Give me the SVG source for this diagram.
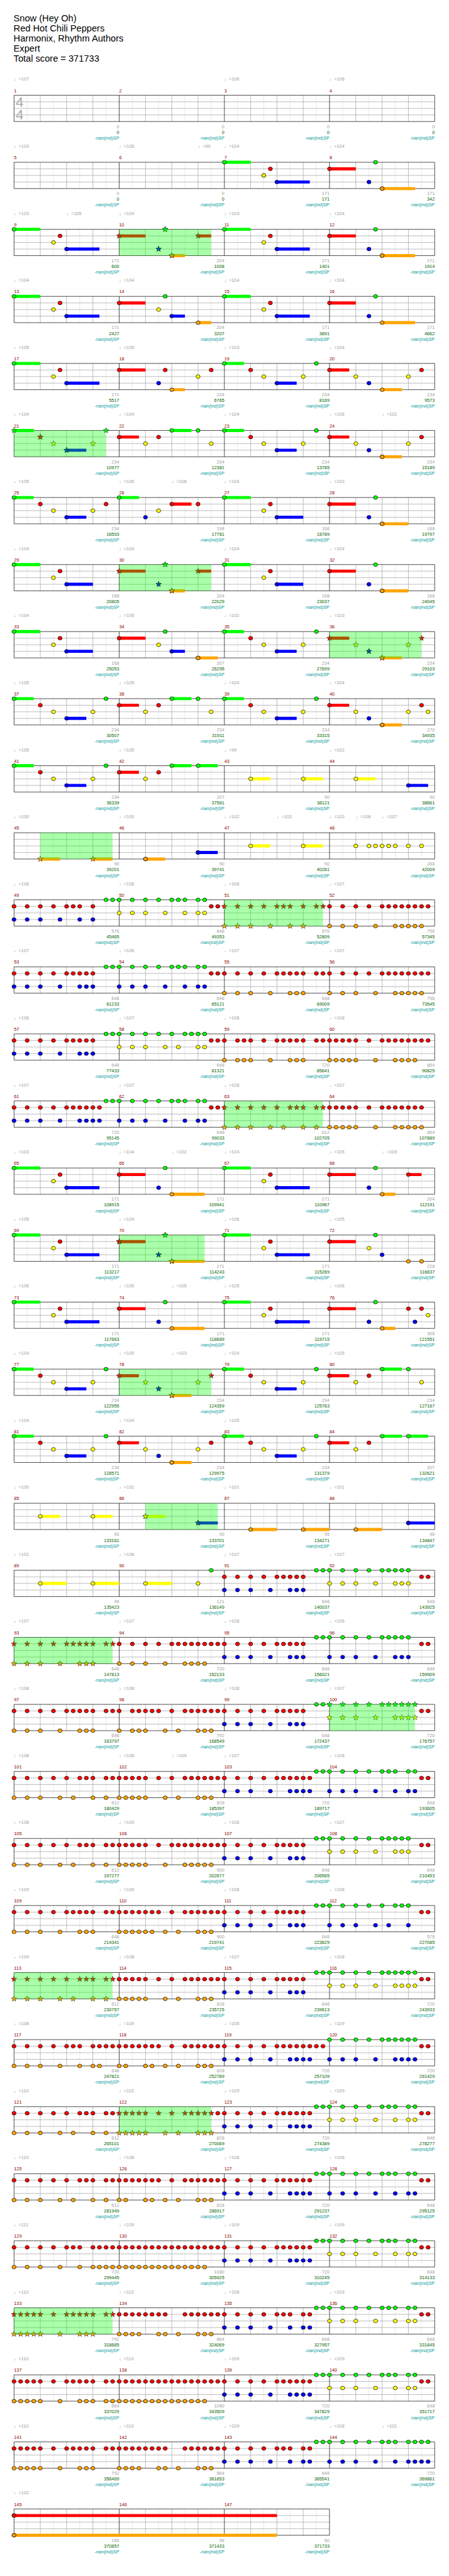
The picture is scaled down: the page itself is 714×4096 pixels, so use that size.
<svg xmlns="http://www.w3.org/2000/svg" xmlns:xlink="http://www.w3.org/1999/xlink" width="714" height="4096" viewBox="0 0 714 4096">
<style>
text{font-family:"Liberation Sans","DejaVu Sans",sans-serif;font-size:10.5px}
.h{font-size:21px;fill:#000}
.tp{fill:#a0a0a0}
.mn{fill:#8b0000}
.s1{fill:#a0a0a0;text-anchor:end}
.s2{fill:#006400;text-anchor:end}
.s3{fill:#009a9a;text-anchor:end}
.ts{font-size:32px;fill:#aaa}
.nG,.nR,.nY,.nB,.nO,.kG,.kR,.kY,.kB,.kO{fill:none;stroke:none}
.nG{marker:url(#mG)}.nR{marker:url(#mR)}.nY{marker:url(#mY)}.nB{marker:url(#mB)}.nO{marker:url(#mO)}
.kG{marker:url(#xG)}.kR{marker:url(#xR)}.kY{marker:url(#xY)}.kB{marker:url(#xB)}.kO{marker:url(#xO)}
.uG,.uR,.uY,.uB,.uO{fill:none;stroke-width:7}
.uG{stroke:#0f0}.uR{stroke:#f00}.uY{stroke:#ff0}.uB{stroke:#00f}.uO{stroke:#ffa500}
.sp{fill:#0f0;fill-opacity:.333}
.gl{stroke:#e2e2e2;fill:none}.gm{stroke:#a0a0a0;fill:none}.gk{stroke:#000;fill:none}
</style>
<defs>
<ellipse id="ov" cx="7" cy="7" rx="4.7" ry="4.2" stroke="#000" stroke-width="1"/>
<path id="st" d="M7 .5L8.59 4.82L13.18 4.99L9.57 7.83L10.82 12.26L7 9.7L3.18 12.26L4.43 7.83L.82 4.99L5.41 4.82Z" stroke="#000" stroke-width=".7"/>
<marker id="mG" markerUnits="userSpaceOnUse" markerWidth="14" markerHeight="14" refX="7" refY="7"><use href="#ov" fill="#0f0"/></marker>
<marker id="mR" markerUnits="userSpaceOnUse" markerWidth="14" markerHeight="14" refX="7" refY="7"><use href="#ov" fill="#f00"/></marker>
<marker id="mY" markerUnits="userSpaceOnUse" markerWidth="14" markerHeight="14" refX="7" refY="7"><use href="#ov" fill="#ff0"/></marker>
<marker id="mB" markerUnits="userSpaceOnUse" markerWidth="14" markerHeight="14" refX="7" refY="7"><use href="#ov" fill="#00f"/></marker>
<marker id="mO" markerUnits="userSpaceOnUse" markerWidth="14" markerHeight="14" refX="7" refY="7"><use href="#ov" fill="#ffa500"/></marker>
<marker id="xG" markerUnits="userSpaceOnUse" markerWidth="14" markerHeight="14" refX="7" refY="7"><use href="#st" fill="#0f0"/></marker>
<marker id="xR" markerUnits="userSpaceOnUse" markerWidth="14" markerHeight="14" refX="7" refY="7"><use href="#st" fill="#f00"/></marker>
<marker id="xY" markerUnits="userSpaceOnUse" markerWidth="14" markerHeight="14" refX="7" refY="7"><use href="#st" fill="#ff0"/></marker>
<marker id="xB" markerUnits="userSpaceOnUse" markerWidth="14" markerHeight="14" refX="7" refY="7"><use href="#st" fill="#00f"/></marker>
<marker id="xO" markerUnits="userSpaceOnUse" markerWidth="14" markerHeight="14" refX="7" refY="7"><use href="#st" fill="#ffa500"/></marker>
<g id="g4">
<path class="gl" d="M30 0v60M90 0v60M150 0v60M210 0v60M270 0v60M330 0v60M390 0v60M450 0v60M510 0v60M570 0v60M630 0v60M690 0v60M750 0v60M810 0v60M870 0v60M930 0v60"/>
<path class="gm" d="M60 0v60M120 0v60M180 0v60M300 0v60M360 0v60M420 0v60M540 0v60M600 0v60M660 0v60M780 0v60M840 0v60M900 0v60M0 15H960M0 30H960M0 45H960"/>
<path class="gk" d="M0 0H960V60H0ZM240 0v60M480 0v60M720 0v60"/>
</g>
<g id="g3">
<path class="gl" d="M30 0v60M90 0v60M150 0v60M210 0v60M270 0v60M330 0v60M390 0v60M450 0v60M510 0v60M570 0v60M630 0v60M690 0v60"/>
<path class="gm" d="M60 0v60M120 0v60M180 0v60M300 0v60M360 0v60M420 0v60M540 0v60M600 0v60M660 0v60M0 15H720M0 30H720M0 45H720"/>
<path class="gk" d="M0 0H720V60H0ZM240 0v60M480 0v60"/>
</g>
<g id="nan"><text class="s3" y="101"><tspan x="240">-nan(ind)SP</tspan><tspan x="480">-nan(ind)SP</tspan><tspan x="720">-nan(ind)SP</tspan><tspan x="960">-nan(ind)SP</tspan></text></g>
</defs>
<rect width="714" height="4096" fill="#fff"/>
<g transform="scale(0.6968)">
<g id="header">
<text class="h" x="31" y="49">Snow (Hey Oh)</text>
<text class="h" x="31" y="72">Red Hot Chili Peppers</text>
<text class="h" x="31" y="95">Harmonix, Rhythm Authors</text>
<text class="h" x="31" y="118">Expert</text>
<text class="h" x="31" y="141">Total score = 371733</text>
</g>

<g id="row1" transform="translate(32 217.3)"><use href="#g4"/>
<text class="ts" x="4" y="27">4</text><text class="ts" x="4" y="55">4</text>
<text class="tp" y="-33"><tspan x="0">♩=107</tspan><tspan x="480">♩=106</tspan><tspan x="720">♩=106</tspan></text>
<text class="mn" y="-7"><tspan x="0">1</tspan><tspan x="240">2</tspan><tspan x="480">3</tspan><tspan x="720">4</tspan></text>
<text class="s1" y="75"><tspan x="240">0</tspan><tspan x="480">0</tspan><tspan x="720">0</tspan><tspan x="960">0</tspan></text>
<text class="s2" y="88"><tspan x="240">0</tspan><tspan x="480">0</tspan><tspan x="720">0</tspan><tspan x="960">0</tspan></text>
<use href="#nan"/></g>

<g id="row2" transform="translate(32 370.3)"><use href="#g4"/>
<text class="tp" y="-33"><tspan x="0">♩=103</tspan><tspan x="240">♩=106</tspan><tspan x="420">♩=99</tspan><tspan x="480">♩=104</tspan><tspan x="720">♩=104</tspan></text>
<text class="mn" y="-7"><tspan x="0">5</tspan><tspan x="240">6</tspan><tspan x="480">7</tspan><tspan x="720">8</tspan></text>
<text class="s1" y="75"><tspan x="240">0</tspan><tspan x="480">0</tspan><tspan x="720">171</tspan><tspan x="960">171</tspan></text>
<text class="s2" y="88"><tspan x="240">0</tspan><tspan x="480">0</tspan><tspan x="720">171</tspan><tspan x="960">342</tspan></text>
<use href="#nan"/>
<path class="uG" d="M480 0H540"/><path class="uR" d="M720 15H780"/><path class="uB" d="M600 45H675"/><path class="uO" d="M840 60H915"/>
<path class="nG" d="M480 0H825"/><path class="nR" d="M585 15H720"/><path class="nY" d="M570 30H570"/><path class="nB" d="M600 45H810"/><path class="nO" d="M840 60H840"/>
</g>

<g id="row3" transform="translate(32 523.3)"><use href="#g4"/>
<text class="tp" y="-33"><tspan x="0">♩=103</tspan><tspan x="120">♩=105</tspan><tspan x="240">♩=104</tspan><tspan x="480">♩=103</tspan><tspan x="720">♩=104</tspan></text>
<text class="mn" y="-7"><tspan x="0">9</tspan><tspan x="240">10</tspan><tspan x="480">11</tspan><tspan x="720">12</tspan></text>
<text class="s1" y="75"><tspan x="240">171</tspan><tspan x="480">204</tspan><tspan x="720">171</tspan><tspan x="960">171</tspan></text>
<text class="s2" y="88"><tspan x="240">600</tspan><tspan x="480">1008</tspan><tspan x="720">1401</tspan><tspan x="960">1914</tspan></text>
<use href="#nan"/>
<path class="uG" d="M0 0H60M480 0H540"/><path class="uR" d="M240 15H300M420 15H450M720 15H780"/><path class="uB" d="M120 45H195M600 45H675"/><path class="uO" d="M360 60H390M840 60H915"/>
<path class="nG" d="M0 0H480H825"/><path class="nR" d="M105 15H585H720"/><path class="nY" d="M90 30H570"/><path class="nB" d="M120 45H600H810"/><path class="nO" d="M840 60H840"/>
<path class="kG" d="M345 0H345"/><path class="kR" d="M240 15H420"/><path class="kB" d="M330 45H330"/><path class="kO" d="M360 60H360"/>
<rect class="sp" x="240" width="210" height="60"/>
</g>

<g id="row4" transform="translate(32 676.3)"><use href="#g4"/>
<text class="tp" y="-33"><tspan x="0">♩=104</tspan><tspan x="240">♩=104</tspan><tspan x="480">♩=104</tspan><tspan x="720">♩=104</tspan></text>
<text class="mn" y="-7"><tspan x="0">13</tspan><tspan x="240">14</tspan><tspan x="480">15</tspan><tspan x="720">16</tspan></text>
<text class="s1" y="75"><tspan x="240">171</tspan><tspan x="480">204</tspan><tspan x="720">171</tspan><tspan x="960">171</tspan></text>
<text class="s2" y="88"><tspan x="240">2427</tspan><tspan x="480">3207</tspan><tspan x="720">3891</tspan><tspan x="960">4662</tspan></text>
<use href="#nan"/>
<path class="uG" d="M0 0H60M480 0H540"/><path class="uR" d="M240 15H300M720 15H780"/><path class="uB" d="M120 45H195M360 45H390M600 45H675"/><path class="uO" d="M420 60H450M840 60H915"/>
<path class="nG" d="M0 0H345H480H825"/><path class="nR" d="M105 15H240H585H720"/><path class="nY" d="M90 30H330H570"/><path class="nB" d="M120 45H360H600H810"/><path class="nO" d="M420 60H840"/>
</g>

<g id="row5" transform="translate(32 829.3)"><use href="#g4"/>
<text class="tp" y="-33"><tspan x="0">♩=105</tspan><tspan x="240">♩=105</tspan><tspan x="480">♩=103</tspan><tspan x="720">♩=104</tspan></text>
<text class="mn" y="-7"><tspan x="0">17</tspan><tspan x="240">18</tspan><tspan x="480">19</tspan><tspan x="720">20</tspan></text>
<text class="s1" y="75"><tspan x="240">171</tspan><tspan x="480">234</tspan><tspan x="720">234</tspan><tspan x="960">234</tspan></text>
<text class="s2" y="88"><tspan x="240">5517</tspan><tspan x="480">6765</tspan><tspan x="720">8169</tspan><tspan x="960">9573</tspan></text>
<use href="#nan"/>
<path class="uG" d="M0 0H60M480 0H525"/><path class="uR" d="M240 15H300M720 15H765"/><path class="uB" d="M120 45H195M600 45H645"/><path class="uO" d="M360 60H390M840 60H885"/>
<path class="nG" d="M0 0H480H690"/><path class="nR" d="M105 15H240H345H450H540H720H930"/><path class="nY" d="M90 30H420H570H660H780H900"/><path class="nB" d="M120 45H330H600H810"/><path class="nO" d="M360 60H840"/>
</g>

<g id="row6" transform="translate(32 982.3)"><use href="#g4"/>
<text class="tp" y="-33"><tspan x="0">♩=104</tspan><tspan x="240">♩=104</tspan><tspan x="480">♩=104</tspan><tspan x="720">♩=106</tspan><tspan x="840">♩=101</tspan></text>
<text class="mn" y="-7"><tspan x="0">21</tspan><tspan x="240">22</tspan><tspan x="480">23</tspan><tspan x="720">24</tspan></text>
<text class="s1" y="75"><tspan x="240">234</tspan><tspan x="480">234</tspan><tspan x="720">234</tspan><tspan x="960">234</tspan></text>
<text class="s2" y="88"><tspan x="240">10977</tspan><tspan x="480">12381</tspan><tspan x="720">13785</tspan><tspan x="960">15189</tspan></text>
<use href="#nan"/>
<path class="uG" d="M0 0H45M360 0H405M480 0H525"/><path class="uR" d="M240 15H285M720 15H765"/><path class="uB" d="M120 45H165M600 45H645"/><path class="uO" d="M840 60H885"/>
<path class="kG" d="M0 0H210"/><path class="kR" d="M60 15H60"/><path class="kY" d="M90 30H180"/><path class="kB" d="M120 45H120"/>
<path class="nG" d="M360 0H420H480H690"/><path class="nR" d="M240 15H330H540H720H930"/><path class="nY" d="M300 30H450H570H660H780H900"/><path class="nB" d="M600 45H810"/><path class="nO" d="M840 60H840"/>
<rect class="sp" x="0" width="210" height="60"/>
</g>

<g id="row7" transform="translate(32 1135.3)"><use href="#g4"/>
<text class="tp" y="-33"><tspan x="0">♩=105</tspan><tspan x="240">♩=106</tspan><tspan x="360">♩=106</tspan><tspan x="480">♩=104</tspan><tspan x="720">♩=103</tspan></text>
<text class="mn" y="-7"><tspan x="0">25</tspan><tspan x="240">26</tspan><tspan x="480">27</tspan><tspan x="720">28</tspan></text>
<text class="s1" y="75"><tspan x="240">234</tspan><tspan x="480">198</tspan><tspan x="720">168</tspan><tspan x="960">168</tspan></text>
<text class="s2" y="88"><tspan x="240">16593</tspan><tspan x="480">17781</tspan><tspan x="720">18789</tspan><tspan x="960">19797</tspan></text>
<use href="#nan"/>
<path class="uG" d="M0 0H45M240 0H285M480 0H540"/><path class="uR" d="M360 15H405M720 15H780"/><path class="uB" d="M120 45H165M600 45H660"/><path class="uO" d="M840 60H900"/>
<path class="nG" d="M0 0H240H480H825"/><path class="nR" d="M60 15H210H360H420H585H720"/><path class="nY" d="M90 30H180H330H570"/><path class="nB" d="M120 45H300H600H810"/><path class="nO" d="M840 60H840"/>
</g>

<g id="row8" transform="translate(32 1288.3)"><use href="#g4"/>
<text class="tp" y="-33"><tspan x="0">♩=104</tspan><tspan x="240">♩=104</tspan><tspan x="480">♩=104</tspan><tspan x="720">♩=104</tspan></text>
<text class="mn" y="-7"><tspan x="0">29</tspan><tspan x="240">30</tspan><tspan x="480">31</tspan><tspan x="720">32</tspan></text>
<text class="s1" y="75"><tspan x="240">168</tspan><tspan x="480">204</tspan><tspan x="720">168</tspan><tspan x="960">168</tspan></text>
<text class="s2" y="88"><tspan x="240">20805</tspan><tspan x="480">22029</tspan><tspan x="720">23037</tspan><tspan x="960">24045</tspan></text>
<use href="#nan"/>
<path class="uG" d="M0 0H60M480 0H540"/><path class="uR" d="M240 15H300M420 15H450M720 15H780"/><path class="uB" d="M120 45H180M600 45H660"/><path class="uO" d="M360 60H390M840 60H900"/>
<path class="kG" d="M345 0H345"/><path class="kR" d="M240 15H420"/><path class="kB" d="M330 45H330"/><path class="kO" d="M360 60H360"/>
<path class="nG" d="M0 0H480H825"/><path class="nR" d="M105 15H585H720"/><path class="nY" d="M90 30H570"/><path class="nB" d="M120 45H600H810"/><path class="nO" d="M840 60H840"/>
<rect class="sp" x="240" width="210" height="60"/>
</g>

<g id="row9" transform="translate(32 1441.3)"><use href="#g4"/>
<text class="tp" y="-33"><tspan x="0">♩=104</tspan><tspan x="240">♩=106</tspan><tspan x="480">♩=102</tspan><tspan x="720">♩=103</tspan></text>
<text class="mn" y="-7"><tspan x="0">33</tspan><tspan x="240">34</tspan><tspan x="480">35</tspan><tspan x="720">36</tspan></text>
<text class="s1" y="75"><tspan x="240">168</tspan><tspan x="480">207</tspan><tspan x="720">234</tspan><tspan x="960">234</tspan></text>
<text class="s2" y="88"><tspan x="240">25053</tspan><tspan x="480">26295</tspan><tspan x="720">27699</tspan><tspan x="960">29103</tspan></text>
<use href="#nan"/>
<path class="uG" d="M0 0H60M480 0H525"/><path class="uR" d="M240 15H300M720 15H765"/><path class="uB" d="M120 45H180M360 45H390M600 45H645"/><path class="uO" d="M420 60H465M840 60H885"/>
<path class="kR" d="M720 15H930"/><path class="kY" d="M780 30H900"/><path class="kB" d="M810 45H810"/><path class="kO" d="M840 60H840"/>
<path class="nG" d="M0 0H345H480H690"/><path class="nR" d="M105 15H240H540"/><path class="nY" d="M90 30H330H570H660"/><path class="nB" d="M120 45H360H600"/><path class="nO" d="M420 60H420"/>
<rect class="sp" x="720" width="210" height="60"/>
</g>

<g id="row10" transform="translate(32 1594.3)"><use href="#g4"/>
<text class="tp" y="-33"><tspan x="0">♩=105</tspan><tspan x="240">♩=105</tspan><tspan x="480">♩=104</tspan><tspan x="720">♩=104</tspan></text>
<text class="mn" y="-7"><tspan x="0">37</tspan><tspan x="240">38</tspan><tspan x="480">39</tspan><tspan x="720">40</tspan></text>
<text class="s1" y="75"><tspan x="240">234</tspan><tspan x="480">234</tspan><tspan x="720">234</tspan><tspan x="960">270</tspan></text>
<text class="s2" y="88"><tspan x="240">30507</tspan><tspan x="480">31911</tspan><tspan x="720">33315</tspan><tspan x="960">34935</tspan></text>
<use href="#nan"/>
<path class="uG" d="M0 0H45M360 0H405M480 0H525"/><path class="uR" d="M240 15H285M720 15H765"/><path class="uB" d="M120 45H165M600 45H645"/><path class="uO" d="M840 60H885"/>
<path class="nG" d="M0 0H210H360H420H480H690"/><path class="nR" d="M60 15H240H330H540H720H930"/><path class="nY" d="M90 30H180H300H450H570H660H780H900H945"/><path class="nB" d="M120 45H600H810"/><path class="nO" d="M840 60H840"/>
</g>

<g id="row11" transform="translate(32 1747.3)"><use href="#g4"/>
<text class="tp" y="-33"><tspan x="0">♩=105</tspan><tspan x="240">♩=105</tspan><tspan x="480">♩=99</tspan><tspan x="720">♩=102</tspan></text>
<text class="mn" y="-7"><tspan x="0">41</tspan><tspan x="240">42</tspan><tspan x="480">43</tspan><tspan x="720">44</tspan></text>
<text class="s1" y="75"><tspan x="240">234</tspan><tspan x="480">207</tspan><tspan x="720">90</tspan><tspan x="960">90</tspan></text>
<text class="s2" y="88"><tspan x="240">36339</tspan><tspan x="480">37581</tspan><tspan x="720">38121</tspan><tspan x="960">38661</tspan></text>
<use href="#nan"/>
<path class="uG" d="M0 0H45M360 0H405M420 0H465"/><path class="uR" d="M240 15H285"/><path class="uY" d="M540 30H585M660 30H705M780 30H825"/><path class="uB" d="M120 45H165M900 45H945"/>
<path class="nG" d="M0 0H210H360H420"/><path class="nR" d="M60 15H240H330"/><path class="nY" d="M90 30H180H300H540H660H780"/><path class="nB" d="M120 45H900"/>
</g>

<g id="row12" transform="translate(32 1900.3)"><use href="#g4"/>
<text class="tp" y="-33"><tspan x="0">♩=100</tspan><tspan x="240">♩=100</tspan><tspan x="480">♩=102</tspan><tspan x="600">♩=103</tspan><tspan x="720">♩=103</tspan><tspan x="780">♩=108</tspan><tspan x="840">♩=107</tspan></text>
<text class="mn" y="-7"><tspan x="0">45</tspan><tspan x="240">46</tspan><tspan x="480">47</tspan><tspan x="720">48</tspan></text>
<text class="s1" y="75"><tspan x="240">90</tspan><tspan x="480">90</tspan><tspan x="720">90</tspan><tspan x="960">288</tspan></text>
<text class="s2" y="88"><tspan x="240">39201</tspan><tspan x="480">39741</tspan><tspan x="720">40281</tspan><tspan x="960">42009</tspan></text>
<use href="#nan"/>
<path class="uO" d="M60 60H105M180 60H225M300 60H345"/><path class="uB" d="M420 45H465"/><path class="uY" d="M540 30H585M660 30H705"/>
<path class="kO" d="M60 60H180"/><path class="nO" d="M300 60H300"/><path class="nB" d="M420 45H420"/><path class="nY" d="M540 30H660H780H810H825H840H855H870H900H930"/>
<rect class="sp" x="60" width="165" height="60"/>
</g>

<g id="row13" transform="translate(32 2053.3)"><use href="#g4"/>
<text class="tp" y="-33"><tspan x="0">♩=106</tspan><tspan x="240">♩=106</tspan><tspan x="480">♩=106</tspan><tspan x="720">♩=107</tspan></text>
<text class="mn" y="-7"><tspan x="0">49</tspan><tspan x="240">50</tspan><tspan x="480">51</tspan><tspan x="720">52</tspan></text>
<text class="s1" y="75"><tspan x="240">576</tspan><tspan x="480">648</tspan><tspan x="720">576</tspan><tspan x="960">756</tspan></text>
<text class="s2" y="88"><tspan x="240">45465</tspan><tspan x="480">49353</tspan><tspan x="720">52809</tspan><tspan x="960">57345</tspan></text>
<use href="#nan"/>
<path class="nG" d="M210 0H225H240H270H300H330H360H375H390H420H435"/>
<path class="nR" d="M0 15H30H60H90H120H135H150H180H450H465H720H750H780H810H840H855H870H885H900H915H930H945"/>
<path class="kR" d="M480 15H510H540H570H600H615H630H660H690H705"/>
<path class="nY" d="M240 30H270H300H345H390H420H435"/>
<path class="nB" d="M0 45H30H60H105H150H180"/>
<path class="kO" d="M480 60H510H540H585H630H660"/>
<path class="nO" d="M720 60H750H780H825H870H885H900H915H930"/>
<rect class="sp" x="480" width="225" height="60"/>
</g>

<g id="row14" transform="translate(32 2206.3)"><use href="#g4"/>
<text class="tp" y="-33"><tspan x="0">♩=107</tspan><tspan x="240">♩=106</tspan><tspan x="480">♩=107</tspan><tspan x="720">♩=107</tspan></text>
<text class="mn" y="-7"><tspan x="0">53</tspan><tspan x="240">54</tspan><tspan x="480">55</tspan><tspan x="720">56</tspan></text>
<text class="s1" y="75"><tspan x="240">648</tspan><tspan x="480">648</tspan><tspan x="720">648</tspan><tspan x="960">756</tspan></text>
<text class="s2" y="88"><tspan x="240">61233</tspan><tspan x="480">65121</tspan><tspan x="720">69009</tspan><tspan x="960">73545</tspan></text>
<use href="#nan"/>
<path class="nG" d="M210 0H225H240H270H300H330H360H375H390H420H435"/>
<path class="nR" d="M0 15H30H60H90H120H135H150H165H180H450H465H480H510H540H570H600H615H630H645H660H690H705H720H750H780H810H840H855H870H885H900H915H930H945"/>
<path class="nB" d="M0 45H30H60H105H150H165H180H240H270H300H345H390H420H435"/>
<path class="nO" d="M480 60H510H540H585H630H645H660H720H750H780H825H870H885H900H915H930"/>
</g>

<g id="row15" transform="translate(32 2359.3)"><use href="#g4"/>
<text class="tp" y="-33"><tspan x="0">♩=106</tspan><tspan x="240">♩=107</tspan><tspan x="480">♩=108</tspan><tspan x="720">♩=108</tspan></text>
<text class="mn" y="-7"><tspan x="0">57</tspan><tspan x="240">58</tspan><tspan x="480">59</tspan><tspan x="720">60</tspan></text>
<text class="s1" y="75"><tspan x="240">648</tspan><tspan x="480">648</tspan><tspan x="720">720</tspan><tspan x="960">864</tspan></text>
<text class="s2" y="88"><tspan x="240">77433</tspan><tspan x="480">81321</tspan><tspan x="720">85641</tspan><tspan x="960">90825</tspan></text>
<use href="#nan"/>
<path class="nG" d="M210 0H225H240H270H300H330H360H390H405H420H435"/>
<path class="nR" d="M0 15H30H60H90H120H135H150H165H180H450H465H480H510H525H540H570H600H615H630H645H660H690H705H720H735H750H765H780H810H840H855H870H885H900H915H930H945"/>
<path class="nY" d="M240 30H270H300H345H375H420H435"/>
<path class="nB" d="M0 45H30H60H105H150H165H180"/>
<path class="nO" d="M480 60H510H525H540H585H630H645H660H720H735H750H765H780H825H870H885H900H915"/>
</g>

<g id="row16" transform="translate(32 2512.3)"><use href="#g4"/>
<text class="tp" y="-33"><tspan x="0">♩=107</tspan><tspan x="240">♩=107</tspan><tspan x="480">♩=108</tspan><tspan x="720">♩=107</tspan></text>
<text class="mn" y="-7"><tspan x="0">61</tspan><tspan x="240">62</tspan><tspan x="480">63</tspan><tspan x="720">64</tspan></text>
<text class="s1" y="75"><tspan x="240">720</tspan><tspan x="480">648</tspan><tspan x="720">612</tspan><tspan x="960">864</tspan></text>
<text class="s2" y="88"><tspan x="240">95145</tspan><tspan x="480">99033</tspan><tspan x="720">102705</tspan><tspan x="960">107889</tspan></text>
<use href="#nan"/>
<path class="nG" d="M210 0H225H240H270H300H330H360H375H390H420H435"/>
<path class="nR" d="M0 15H30H60H90H120H135H150H165H180H195H450H465H720H735H750H765H780H810H840H855H870H885H900H915H930"/>
<path class="kR" d="M480 15H510H540H570H600H630H645H660H690H705"/>
<path class="nB" d="M0 45H30H60H105H150H165H180H195H240H270H300H345H390H420H435"/>
<path class="kO" d="M480 60H510H540H585H615H660H690"/>
<path class="nO" d="M720 60H735H750H765H780H825H870H885H900H915H930"/>
<rect class="sp" x="480" width="225" height="60"/>
</g>

<g id="row17" transform="translate(32 2665.3)"><use href="#g4"/>
<text class="tp" y="-33"><tspan x="0">♩=103</tspan><tspan x="240">♩=104</tspan><tspan x="360">♩=102</tspan><tspan x="480">♩=104</tspan><tspan x="720">♩=106</tspan><tspan x="840">♩=109</tspan></text>
<text class="mn" y="-7"><tspan x="0">65</tspan><tspan x="240">66</tspan><tspan x="480">67</tspan><tspan x="720">68</tspan></text>
<text class="s1" y="75"><tspan x="240">171</tspan><tspan x="480">171</tspan><tspan x="720">171</tspan><tspan x="960">204</tspan></text>
<text class="s2" y="88"><tspan x="240">108915</tspan><tspan x="480">109941</tspan><tspan x="720">110967</tspan><tspan x="960">112191</tspan></text>
<use href="#nan"/>
<path class="uG" d="M0 0H60M480 0H540"/><path class="uR" d="M240 15H300M720 15H780M900 15H930"/><path class="uB" d="M120 45H195M600 45H675"/><path class="uO" d="M360 60H435M840 60H870"/>
<path class="nG" d="M0 0H345H480H825"/><path class="nR" d="M105 15H240H585H720H900"/><path class="nY" d="M90 30H570"/><path class="nB" d="M120 45H330H600H810"/><path class="nO" d="M360 60H840"/>
</g>

<g id="row18" transform="translate(32 2818.3)"><use href="#g4"/>
<text class="tp" y="-33"><tspan x="0">♩=105</tspan><tspan x="240">♩=104</tspan><tspan x="480">♩=106</tspan><tspan x="720">♩=105</tspan></text>
<text class="mn" y="-7"><tspan x="0">69</tspan><tspan x="240">70</tspan><tspan x="480">71</tspan><tspan x="720">72</tspan></text>
<text class="s1" y="75"><tspan x="240">171</tspan><tspan x="480">171</tspan><tspan x="720">171</tspan><tspan x="960">228</tspan></text>
<text class="s2" y="88"><tspan x="240">113217</tspan><tspan x="480">114243</tspan><tspan x="720">115269</tspan><tspan x="960">116637</tspan></text>
<use href="#nan"/>
<path class="uG" d="M0 0H60M480 0H540"/><path class="uR" d="M240 15H300M720 15H780"/><path class="uB" d="M120 45H195M600 45H675"/><path class="uO" d="M360 60H435"/>
<path class="kG" d="M345 0H345"/><path class="kR" d="M240 15H240"/><path class="kB" d="M330 45H330"/><path class="kO" d="M360 60H360"/>
<path class="nG" d="M0 0H480H825"/><path class="nR" d="M105 15H585H720"/><path class="nY" d="M90 30H570H810"/><path class="nB" d="M120 45H600H840"/><path class="nO" d="M900 60H930"/>
<rect class="sp" x="240" width="195" height="60"/>
</g>

<g id="row19" transform="translate(32 2971.3)"><use href="#g4"/>
<text class="tp" y="-33"><tspan x="0">♩=106</tspan><tspan x="240">♩=105</tspan><tspan x="360">♩=105</tspan><tspan x="480">♩=105</tspan><tspan x="720">♩=106</tspan></text>
<text class="mn" y="-7"><tspan x="0">73</tspan><tspan x="240">74</tspan><tspan x="480">75</tspan><tspan x="720">76</tspan></text>
<text class="s1" y="75"><tspan x="240">171</tspan><tspan x="480">171</tspan><tspan x="720">171</tspan><tspan x="960">306</tspan></text>
<text class="s2" y="88"><tspan x="240">117663</tspan><tspan x="480">118689</tspan><tspan x="720">119715</tspan><tspan x="960">121551</tspan></text>
<use href="#nan"/>
<path class="uG" d="M0 0H60M480 0H540"/><path class="uR" d="M240 15H300M720 15H780"/><path class="uB" d="M120 45H195M600 45H675"/><path class="uO" d="M360 60H435M840 60H870"/>
<path class="nG" d="M0 0H345H480H825"/><path class="nR" d="M105 15H240H585H720H900H930"/><path class="nY" d="M90 30H570H945"/><path class="nB" d="M120 45H330H600H810H915"/><path class="nO" d="M360 60H840"/>
</g>

<g id="row20" transform="translate(32 3124.3)"><use href="#g4"/>
<text class="tp" y="-33"><tspan x="0">♩=104</tspan><tspan x="240">♩=105</tspan><tspan x="360">♩=103</tspan><tspan x="480">♩=104</tspan><tspan x="720">♩=105</tspan></text>
<text class="mn" y="-7"><tspan x="0">77</tspan><tspan x="240">78</tspan><tspan x="480">79</tspan><tspan x="720">80</tspan></text>
<text class="s1" y="75"><tspan x="240">234</tspan><tspan x="480">234</tspan><tspan x="720">234</tspan><tspan x="960">234</tspan></text>
<text class="s2" y="88"><tspan x="240">122955</tspan><tspan x="480">124359</tspan><tspan x="720">125763</tspan><tspan x="960">127167</tspan></text>
<use href="#nan"/>
<path class="uG" d="M0 0H45M480 0H525M840 0H885"/><path class="uR" d="M240 15H285M720 15H765"/><path class="uB" d="M120 45H165M600 45H645"/><path class="uO" d="M360 60H405"/>
<path class="kR" d="M240 15H450"/><path class="kY" d="M300 30H420"/><path class="kB" d="M330 45H330"/><path class="kO" d="M360 60H360"/>
<path class="nG" d="M0 0H210H480H690H840H900"/><path class="nR" d="M60 15H540H720H810"/><path class="nY" d="M90 30H180H570H660H780H930"/><path class="nB" d="M120 45H600"/>
<rect class="sp" x="240" width="210" height="60"/>
</g>

<g id="row21" transform="translate(32 3277.3)"><use href="#g4"/>
<text class="tp" y="-33"><tspan x="0">♩=104</tspan><tspan x="240">♩=104</tspan><tspan x="480">♩=105</tspan></text>
<text class="mn" y="-7"><tspan x="0">81</tspan><tspan x="240">82</tspan><tspan x="480">83</tspan><tspan x="720">84</tspan></text>
<text class="s1" y="75"><tspan x="240">234</tspan><tspan x="480">234</tspan><tspan x="720">234</tspan><tspan x="960">207</tspan></text>
<text class="s2" y="88"><tspan x="240">128571</tspan><tspan x="480">129975</tspan><tspan x="720">131379</tspan><tspan x="960">132621</tspan></text>
<use href="#nan"/>
<path class="uG" d="M0 0H45M480 0H525M840 0H885M900 0H945"/><path class="uR" d="M240 15H285M720 15H765"/><path class="uB" d="M120 45H165M600 45H645"/><path class="uO" d="M360 60H405"/>
<path class="nG" d="M0 0H210H480H690H840H900"/><path class="nR" d="M60 15H240H450H540H720H810"/><path class="nY" d="M90 30H180H300H420H570H660H780"/><path class="nB" d="M120 45H330H600"/><path class="nO" d="M360 60H360"/>
</g>

<g id="row22" transform="translate(32 3430.3)"><use href="#g4"/>
<text class="tp" y="-33"><tspan x="0">♩=100</tspan><tspan x="240">♩=101</tspan><tspan x="480">♩=101</tspan><tspan x="720">♩=101</tspan></text>
<text class="mn" y="-7"><tspan x="0">85</tspan><tspan x="240">86</tspan><tspan x="480">87</tspan><tspan x="720">88</tspan></text>
<text class="s1" y="75"><tspan x="240">90</tspan><tspan x="480">90</tspan><tspan x="720">95</tspan><tspan x="960">96</tspan></text>
<text class="s2" y="88"><tspan x="240">133161</tspan><tspan x="480">133701</tspan><tspan x="720">134271</tspan><tspan x="960">134847</tspan></text>
<use href="#nan"/>
<path class="uY" d="M60 30H105M180 30H225M300 30H345"/><path class="uB" d="M420 45H465M900 45H960"/><path class="uO" d="M540 60H600M660 60H720M780 60H840"/>
<path class="kY" d="M300 30H300"/><path class="kB" d="M420 45H420"/>
<path class="nY" d="M60 30H180"/><path class="nB" d="M900 45H900"/><path class="nO" d="M540 60H660H780"/>
<rect class="sp" x="300" width="165" height="60"/>
</g>

<g id="row23" transform="translate(32 3583.3)"><use href="#g4"/>
<text class="tp" y="-33"><tspan x="0">♩=101</tspan><tspan x="240">♩=106</tspan><tspan x="480">♩=107</tspan><tspan x="720">♩=107</tspan></text>
<text class="mn" y="-7"><tspan x="0">89</tspan><tspan x="240">90</tspan><tspan x="480">91</tspan><tspan x="720">92</tspan></text>
<text class="s1" y="75"><tspan x="240">96</tspan><tspan x="480">121</tspan><tspan x="720">648</tspan><tspan x="960">648</tspan></text>
<text class="s2" y="88"><tspan x="240">135423</tspan><tspan x="480">136149</tspan><tspan x="720">140037</tspan><tspan x="960">143925</tspan></text>
<use href="#nan"/>
<path class="uY" d="M60 30H120M180 30H240M300 30H360"/>
<path class="nG" d="M450 0H690H705H720H750H780H810H840H855H870H885H900"/>
<path class="nY" d="M60 30H180H300H420H720H750H780H825H870H885H900"/>
<path class="nR" d="M480 15H510H540H570H600H615H630H645H660H930H945"/>
<path class="nB" d="M480 45H510H540H585H630H645H660"/>
</g>

<g id="row24" transform="translate(32 3736.3)"><use href="#g4"/>
<text class="tp" y="-33"><tspan x="0">♩=107</tspan><tspan x="240">♩=107</tspan><tspan x="480">♩=108</tspan><tspan x="720">♩=106</tspan></text>
<text class="mn" y="-7"><tspan x="0">93</tspan><tspan x="240">94</tspan><tspan x="480">95</tspan><tspan x="720">96</tspan></text>
<text class="s1" y="75"><tspan x="240">648</tspan><tspan x="480">720</tspan><tspan x="720">648</tspan><tspan x="960">648</tspan></text>
<text class="s2" y="88"><tspan x="240">147813</tspan><tspan x="480">152133</tspan><tspan x="720">156021</tspan><tspan x="960">159909</tspan></text>
<use href="#nan"/>
<path class="kR" d="M0 15H30H60H90H120H135H150H165H180H210H225"/>
<path class="nR" d="M240 15H270H300H330H360H375H390H405H420H435H450H465H480H510H540H570H600H615H630H645H660H930H945"/>
<path class="kO" d="M0 60H30H60H105H150H165H180"/>
<path class="nO" d="M240 60H270H300H345H390H405H420H435"/>
<path class="nG" d="M690 0H705H720H750H780H810H840H855H870H885H900"/>
<path class="nB" d="M480 45H510H540H585H630H645H660H720H750H780H825H870H885H900"/>
<rect class="sp" x="0" width="225" height="60"/>
</g>

<g id="row25" transform="translate(32 3889.3)"><use href="#g4"/>
<text class="tp" y="-33"><tspan x="0">♩=108</tspan><tspan x="240">♩=108</tspan><tspan x="480">♩=108</tspan><tspan x="720">♩=107</tspan></text>
<text class="mn" y="-7"><tspan x="0">97</tspan><tspan x="240">98</tspan><tspan x="480">99</tspan><tspan x="720">100</tspan></text>
<text class="s1" y="75"><tspan x="240">648</tspan><tspan x="480">792</tspan><tspan x="720">648</tspan><tspan x="960">720</tspan></text>
<text class="s2" y="88"><tspan x="240">163797</tspan><tspan x="480">168549</tspan><tspan x="720">172437</tspan><tspan x="960">176757</tspan></text>
<use href="#nan"/>
<path class="nR" d="M0 15H30H60H90H120H135H150H165H180H210H225H240H270H285H300H315H330H360H390H405H420H435H450H465H480H510H540H570H600H615H630H645H660H930H945"/>
<path class="nO" d="M0 60H30H60H105H150H165H180H240H270H285H300H345H375H420H435H450"/>
<path class="nB" d="M480 45H510H540H585H630H645H660"/>
<path class="nG" d="M690 0H705"/>
<path class="kG" d="M720 0H750H780H810H840H855H870H885H900H915"/>
<path class="kY" d="M720 30H750H780H825H870H885H900H915"/>
<rect class="sp" x="720" width="195" height="60"/>
</g>

<g id="row26" transform="translate(32 4042.3)"><use href="#g4"/>
<text class="tp" y="-33"><tspan x="0">♩=108</tspan><tspan x="240">♩=108</tspan><tspan x="360">♩=109</tspan><tspan x="480">♩=107</tspan><tspan x="720">♩=108</tspan></text>
<text class="mn" y="-7"><tspan x="0">101</tspan><tspan x="240">102</tspan><tspan x="480">103</tspan><tspan x="720">104</tspan></text>
<text class="s1" y="75"><tspan x="240">612</tspan><tspan x="480">828</tspan><tspan x="720">720</tspan><tspan x="960">648</tspan></text>
<text class="s2" y="88"><tspan x="240">180429</tspan><tspan x="480">185397</tspan><tspan x="720">189717</tspan><tspan x="960">193605</tspan></text>
<use href="#nan"/>
<path class="nR" d="M0 15H30H60H90H120H150H165H180H210H225H240H255H270H285H300H330H360H390H405H420H435H450H465H480H510H540H570H600H615H630H645H660H675H930H945"/>
<path class="nO" d="M0 60H30H60H105H135H180H210H240H255H270H285H300H345H375H420H435H450"/>
<path class="nB" d="M480 45H510H540H585H630H645H660H675H720H750H780H825H870H900H915"/>
<path class="nG" d="M690 0H705H720H750H780H810H840H855H870H900H915"/>
</g>

<g id="row27" transform="translate(32 4195.3)"><use href="#g4"/>
<text class="tp" y="-33"><tspan x="0">♩=108</tspan><tspan x="240">♩=109</tspan><tspan x="480">♩=108</tspan><tspan x="720">♩=107</tspan></text>
<text class="mn" y="-7"><tspan x="0">105</tspan><tspan x="240">106</tspan><tspan x="480">107</tspan><tspan x="720">108</tspan></text>
<text class="s1" y="75"><tspan x="240">612</tspan><tspan x="480">900</tspan><tspan x="720">648</tspan><tspan x="960">648</tspan></text>
<text class="s2" y="88"><tspan x="240">197277</tspan><tspan x="480">202677</tspan><tspan x="720">206565</tspan><tspan x="960">210453</tspan></text>
<use href="#nan"/>
<path class="nR" d="M0 15H30H60H90H120H150H165H180H210H225H240H255H270H285H300H330H360H375H390H405H420H435H450H465H480H510H540H570H600H615H630H645H660H930H945"/>
<path class="nO" d="M0 60H30H60H105H135H180H210H240H255H270H285H300H345H390H405H420H435H450"/>
<path class="nB" d="M480 45H510H540H585H630H645H660"/>
<path class="nG" d="M690 0H705H720H750H780H810H840H855H870H885H900"/>
<path class="nY" d="M720 30H750H780H825H870H885H900"/>
</g>

<g id="row28" transform="translate(32 4348.3)"><use href="#g4"/>
<text class="tp" y="-33"><tspan x="0">♩=109</tspan><tspan x="240">♩=109</tspan><tspan x="480">♩=108</tspan><tspan x="720">♩=108</tspan></text>
<text class="mn" y="-7"><tspan x="0">109</tspan><tspan x="240">110</tspan><tspan x="480">111</tspan><tspan x="720">112</tspan></text>
<text class="s1" y="75"><tspan x="240">648</tspan><tspan x="480">900</tspan><tspan x="720">648</tspan><tspan x="960">576</tspan></text>
<text class="s2" y="88"><tspan x="240">214341</tspan><tspan x="480">219741</tspan><tspan x="720">223629</tspan><tspan x="960">227085</tspan></text>
<use href="#nan"/>
<path class="nR" d="M0 15H30H60H90H120H135H150H165H180H210H225H240H255H270H285H300H315H330H360H390H405H420H435H450H465H480H510H540H570H600H615H630H645H660H930H945"/>
<path class="nO" d="M0 60H30H60H105H150H165H180H240H255H270H285H300H315H345H375H420H435H450"/>
<path class="nB" d="M480 45H510H540H585H630H645H660H720H750H780H825H855H900"/>
<path class="nG" d="M690 0H705H720H750H780H810H840H870H885H900"/>
</g>

<g id="row29" transform="translate(32 4501.3)"><use href="#g4"/>
<text class="tp" y="-33"><tspan x="0">♩=109</tspan><tspan x="240">♩=108</tspan><tspan x="480">♩=107</tspan><tspan x="720">♩=108</tspan></text>
<text class="mn" y="-7"><tspan x="0">113</tspan><tspan x="240">114</tspan><tspan x="480">115</tspan><tspan x="720">116</tspan></text>
<text class="s1" y="75"><tspan x="240">612</tspan><tspan x="480">828</tspan><tspan x="720">648</tspan><tspan x="960">720</tspan></text>
<text class="s2" y="88"><tspan x="240">230757</tspan><tspan x="480">235725</tspan><tspan x="720">239613</tspan><tspan x="960">243933</tspan></text>
<use href="#nan"/>
<path class="kR" d="M0 15H30H60H90H120H150H165H180H210H225"/>
<path class="nR" d="M240 15H255H270H285H300H330H360H390H405H420H435H450H465H480H510H540H570H600H615H630H645H660H930H945"/>
<path class="kO" d="M0 60H30H60H105H135H180H210"/>
<path class="nO" d="M240 60H255H270H285H300H345H375H420H435H450"/>
<path class="nB" d="M480 45H510H540H585H630H645H660"/>
<path class="nG" d="M690 0H705H720H750H780H810H840H855H870H885H900H915"/>
<path class="nY" d="M720 30H750H780H825H870H885H900H915"/>
<rect class="sp" x="0" width="225" height="60"/>
</g>

<g id="row30" transform="translate(32 4654.3)"><use href="#g4"/>
<text class="tp" y="-33"><tspan x="0">♩=108</tspan><tspan x="240">♩=109</tspan><tspan x="480">♩=108</tspan><tspan x="720">♩=109</tspan></text>
<text class="mn" y="-7"><tspan x="0">117</tspan><tspan x="240">118</tspan><tspan x="480">119</tspan><tspan x="720">120</tspan></text>
<text class="s1" y="75"><tspan x="240">648</tspan><tspan x="480">828</tspan><tspan x="720">720</tspan><tspan x="960">720</tspan></text>
<text class="s2" y="88"><tspan x="240">247821</tspan><tspan x="480">252789</tspan><tspan x="720">257109</tspan><tspan x="960">261429</tspan></text>
<use href="#nan"/>
<path class="nR" d="M0 15H30H60H90H120H135H150H180H195H210H225H240H255H270H285H300H315H330H360H390H405H420H435H450H465H480H510H540H570H600H615H630H645H660H675H690H705H930H945"/>
<path class="nO" d="M0 60H30H60H105H150H180H195H240H255H300H315H345H375H420H435H450"/>
<path class="nB" d="M480 45H510H540H585H630H645H660H675H720H750H780H825H870H885H900H915"/>
<path class="nG" d="M720 0H750H780H810H840H855H870H885H900H915"/>
</g>

<g id="row31" transform="translate(32 4807.3)"><use href="#g4"/>
<text class="tp" y="-33"><tspan x="0">♩=110</tspan><tspan x="240">♩=110</tspan><tspan x="480">♩=109</tspan><tspan x="720">♩=109</tspan></text>
<text class="mn" y="-7"><tspan x="0">121</tspan><tspan x="240">122</tspan><tspan x="480">123</tspan><tspan x="720">124</tspan></text>
<text class="s1" y="75"><tspan x="240">612</tspan><tspan x="480">828</tspan><tspan x="720">720</tspan><tspan x="960">648</tspan></text>
<text class="s2" y="88"><tspan x="240">265101</tspan><tspan x="480">270069</tspan><tspan x="720">274389</tspan><tspan x="960">278277</tspan></text>
<use href="#nan"/>
<path class="nR" d="M0 15H30H60H90H120H150H165H180H210H225H465H480H510H540H570H600H615H630H645H660H675H930H945"/>
<path class="kR" d="M240 15H255H270H285H300H330H360H390H405H420H435H450"/>
<path class="nO" d="M0 60H30H60H105H135H180H210"/>
<path class="kO" d="M240 60H255H270H285H300H345H375H420H435H450"/>
<path class="nB" d="M480 45H510H540H585H630H645H660H675"/>
<path class="nG" d="M690 0H705H720H750H780H810H840H855H870H900H915"/>
<path class="nY" d="M720 30H750H780H825H870H900H915"/>
<rect class="sp" x="240" width="210" height="60"/>
</g>

<g id="row32" transform="translate(32 4960.3)"><use href="#g4"/>
<text class="tp" y="-33"><tspan x="0">♩=110</tspan><tspan x="240">♩=108</tspan><tspan x="480">♩=108</tspan><tspan x="720">♩=108</tspan></text>
<text class="mn" y="-7"><tspan x="0">125</tspan><tspan x="240">126</tspan><tspan x="480">127</tspan><tspan x="720">128</tspan></text>
<text class="s1" y="75"><tspan x="240">612</tspan><tspan x="480">828</tspan><tspan x="720">720</tspan><tspan x="960">648</tspan></text>
<text class="s2" y="88"><tspan x="240">281949</tspan><tspan x="480">286917</tspan><tspan x="720">291237</tspan><tspan x="960">295125</tspan></text>
<use href="#nan"/>
<path class="nR" d="M0 15H30H60H90H120H150H165H180H210H225H240H255H270H285H300H315H330H360H390H405H420H435H450H465H480H510H540H570H600H615H630H645H660H675H930H945"/>
<path class="nO" d="M0 60H30H60H105H135H180H210H240H255H300H315H345H375H420H435H450"/>
<path class="nB" d="M480 45H510H540H585H630H645H660H675H720H750H780H825H870H900H915"/>
<path class="nG" d="M690 0H705H720H750H780H810H840H855H870H900H915"/>
</g>

<g id="row33" transform="translate(32 5113.3)"><use href="#g4"/>
<text class="tp" y="-33"><tspan x="0">♩=111</tspan><tspan x="240">♩=109</tspan><tspan x="480">♩=109</tspan><tspan x="720">♩=109</tspan></text>
<text class="mn" y="-7"><tspan x="0">129</tspan><tspan x="240">130</tspan><tspan x="480">131</tspan><tspan x="720">132</tspan></text>
<text class="s1" y="75"><tspan x="240">720</tspan><tspan x="480">1080</tspan><tspan x="720">720</tspan><tspan x="960">648</tspan></text>
<text class="s2" y="88"><tspan x="240">299445</tspan><tspan x="480">305925</tspan><tspan x="720">310245</tspan><tspan x="960">314133</tspan></text>
<use href="#nan"/>
<path class="nR" d="M0 15H30H60H90H120H135H150H180H195H210H225H240H255H270H285H300H315H330H345H360H375H390H405H420H435H450H465H480H510H540H570H600H615H630H645H660H675H930H945"/>
<path class="nO" d="M0 60H30H60H105H150H180H195H210H225H240H255H270H285H300H315H330H345H360H375H390H405H420H435"/>
<path class="nB" d="M480 45H510H540H585H630H645H660H675"/>
<path class="nG" d="M690 0H705H720H750H780H810H840H855H870H900H915"/>
<path class="nY" d="M720 30H750H780H825H870H900H915"/>
</g>

<g id="row34" transform="translate(32 5266.3)"><use href="#g4"/>
<text class="tp" y="-33"><tspan x="0">♩=110</tspan><tspan x="240">♩=110</tspan><tspan x="480">♩=108</tspan><tspan x="720">♩=109</tspan></text>
<text class="mn" y="-7"><tspan x="0">133</tspan><tspan x="240">134</tspan><tspan x="480">135</tspan><tspan x="720">136</tspan></text>
<text class="s1" y="75"><tspan x="240">792</tspan><tspan x="480">864</tspan><tspan x="720">648</tspan><tspan x="960">648</tspan></text>
<text class="s2" y="88"><tspan x="240">318885</tspan><tspan x="480">324069</tspan><tspan x="720">327957</tspan><tspan x="960">331845</tspan></text>
<use href="#nan"/>
<path class="kR" d="M0 15H15H30H45H60H90H120H135H150H165H180H210H225"/>
<path class="nR" d="M240 15H255H270H285H300H315H330H345H390H405H420H435H450H465H480H510H540H570H600H615H630H660H675H930H945"/>
<path class="kO" d="M0 60H15H30H45H60H105H150H165H180"/>
<path class="nO" d="M240 60H255H270H285H330H345H375H420H435H450"/>
<path class="nB" d="M480 45H510H540H585H630H660H675"/>
<path class="nG" d="M690 0H705H720H750H780H810H840H855H870H900H915"/>
<path class="nY" d="M720 30H750H780H825H870H900H915"/>
<rect class="sp" x="0" width="225" height="60"/>
</g>

<g id="row35" transform="translate(32 5419.3)"><use href="#g4"/>
<text class="tp" y="-33"><tspan x="0">♩=110</tspan><tspan x="240">♩=110</tspan><tspan x="480">♩=109</tspan><tspan x="720">♩=109</tspan></text>
<text class="mn" y="-7"><tspan x="0">137</tspan><tspan x="240">138</tspan><tspan x="480">139</tspan><tspan x="720">140</tspan></text>
<text class="s1" y="75"><tspan x="240">864</tspan><tspan x="480">1080</tspan><tspan x="720">720</tspan><tspan x="960">648</tspan></text>
<text class="s2" y="88"><tspan x="240">337029</tspan><tspan x="480">343509</tspan><tspan x="720">347829</tspan><tspan x="960">351717</tspan></text>
<use href="#nan"/>
<path class="nR" d="M0 15H15H30H45H60H90H120H135H150H165H180H210H225H240H255H270H285H300H315H330H345H360H375H390H405H420H435H450H465H480H510H540H570H600H615H630H645H660H675H930H945"/>
<path class="nO" d="M0 60H15H30H45H60H105H150H165H180H210H225H240H255H270H285H300H315H330H345H360H375H390H405H420H435"/>
<path class="nB" d="M480 45H510H540H585H630H645H660H675"/>
<path class="nG" d="M690 0H705H720H750H780H810H840H855H870H900H915"/>
<path class="nY" d="M720 30H750H780H825H870H900H915"/>
</g>

<g id="row36" transform="translate(32 5572.3)"><use href="#g4"/>
<text class="tp" y="-33"><tspan x="0">♩=110</tspan><tspan x="240">♩=110</tspan><tspan x="480">♩=109</tspan><tspan x="720">♩=108</tspan><tspan x="840">♩=101</tspan></text>
<text class="mn" y="-7"><tspan x="0">141</tspan><tspan x="240">142</tspan><tspan x="480">143</tspan><tspan x="720">144</tspan></text>
<text class="s1" y="75"><tspan x="240">792</tspan><tspan x="480">864</tspan><tspan x="720">648</tspan><tspan x="960">720</tspan></text>
<text class="s2" y="88"><tspan x="240">356469</tspan><tspan x="480">361653</tspan><tspan x="720">365541</tspan><tspan x="960">369861</tspan></text>
<use href="#nan"/>
<path class="nR" d="M0 15H15H30H45H60H90H120H135H150H165H180H210H225H240H255H270H285H300H315H330H345H390H405H420H435H450H465H480H510H540H570H600H615H630H660H675"/>
<path class="nO" d="M0 60H15H30H45H60H105H150H165H180H240H255H270H285H330H345H375H420H435H450"/>
<path class="nB" d="M480 45H510H540H585H630H660H675H720H750H780H825H870H900H915H930H945"/>
<path class="nG" d="M690 0H705H720H750H780H810H840H855H870H900H915H930H945"/>
</g>

<g id="row37" transform="translate(32 5725.3)"><use href="#g3"/>
<text class="tp" y="-33"><tspan x="0">♩=102</tspan></text>
<text class="mn" y="-7"><tspan x="0">145</tspan><tspan x="240">146</tspan><tspan x="480">147</tspan></text>
<text class="s1" y="75"><tspan x="240">166</tspan><tspan x="480">96</tspan><tspan x="720">50</tspan></text>
<text class="s2" y="88"><tspan x="240">370857</tspan><tspan x="480">371433</tspan><tspan x="720">371733</tspan></text>
<text class="s3" y="101"><tspan x="240">-nan(ind)SP</tspan><tspan x="480">-nan(ind)SP</tspan><tspan x="720">-nan(ind)SP</tspan></text>
<path class="uR" d="M0 15H600"/><path class="uO" d="M0 60H600"/>
<path class="nR" d="M0 15H0"/><path class="nO" d="M0 60H0"/>
</g>
</g>
</svg>
